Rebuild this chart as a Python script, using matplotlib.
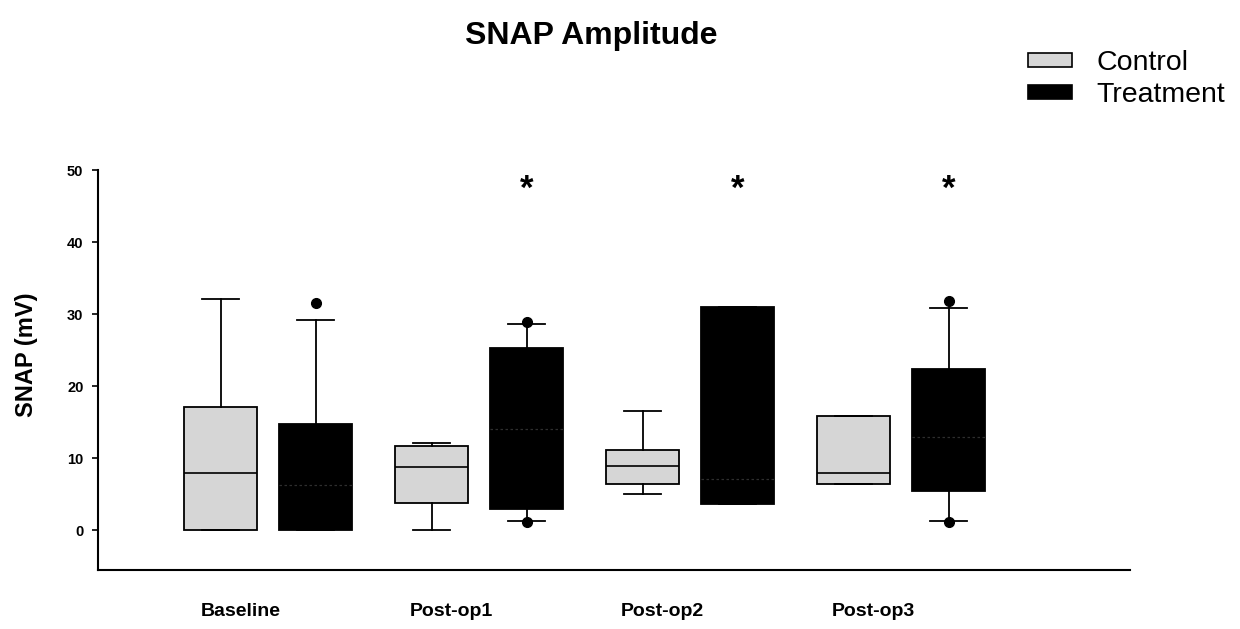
import matplotlib
matplotlib.use("Agg")
import matplotlib.pyplot as plt
from matplotlib.patches import Patch

plt.rcParams['font.family'] = ['Liberation Sans', 'DejaVu Sans']

# Time points
categories = ["Baseline", "Post-op1", "Post-op2", "Post-op3"]

# Control group box statistics (mV)
ctrl_whislo = [0.0, 0.1, 5.0, 6.4]
ctrl_q1 = [0.0, 3.75, 6.5, 6.4]
ctrl_med = [7.9, 8.75, 8.9, 7.9]
ctrl_q3 = [17.1, 11.7, 11.1, 15.8]
ctrl_whishi = [32.1, 12.1, 16.5, 15.8]
ctrl_fliers = [[], [], [], []]

# Treatment group box statistics (mV)
trt_whislo = [0.0, 1.25, 3.7, 1.25]
trt_q1 = [0.0, 3.0, 3.7, 5.4]
trt_med = [6.25, 14.0, 7.1, 13.0]
trt_q3 = [14.7, 25.3, 31.0, 22.4]
trt_whishi = [29.2, 28.7, 31.0, 30.8]
trt_fliers = [[31.5], [1.2, 28.9], [], [1.2, 31.8]]

# Time points where treatment differs significantly
significant = [False, True, True, True]
star_level = 47.3


def make_stats(lo, q1, med, q3, hi, fl):
    return [dict(whislo=a, q1=b, med=c, q3=d, whishi=e, fliers=f)
            for a, b, c, d, e, f in zip(lo, q1, med, q3, hi, fl)]


fig = plt.figure(figsize=(12.4, 6.29), dpi=100)
ax = fig.add_axes([98 / 1240, 1 - 570 / 629, (1130 - 98) / 1240, 400 / 629])

groups = range(len(categories))
offset = 0.225
width = 0.346

flier_style = dict(marker='o', markerfacecolor='black', markeredgecolor='black',
                   markersize=7, linestyle='none')

ax.bxp(make_stats(ctrl_whislo, ctrl_q1, ctrl_med, ctrl_q3, ctrl_whishi, ctrl_fliers),
       positions=[g - offset for g in groups], widths=width, capwidths=width * 0.5,
       patch_artist=True, manage_ticks=False,
       boxprops=dict(facecolor='#d6d6d6', edgecolor='black', linewidth=1.3),
       medianprops=dict(color='black', linewidth=1.2),
       whiskerprops=dict(color='black', linewidth=1.3),
       capprops=dict(color='black', linewidth=1.3),
       flierprops=flier_style)

ax.bxp(make_stats(trt_whislo, trt_q1, trt_med, trt_q3, trt_whishi, trt_fliers),
       positions=[g + offset for g in groups], widths=width, capwidths=width * 0.5,
       patch_artist=True, manage_ticks=False,
       boxprops=dict(facecolor='black', edgecolor='black', linewidth=1.3),
       medianprops=dict(color='#2e2e2e', linewidth=0.9, linestyle=(0, (2, 2))),
       whiskerprops=dict(color='black', linewidth=1.3),
       capprops=dict(color='black', linewidth=1.3),
       flierprops=flier_style)

for g, sig in zip(groups, significant):
    if sig:
        ax.text(g + offset, star_level, '*', ha='center', va='center',
                fontsize=25, fontweight='bold')

ax.set_xlim(-0.806, 4.085)
ax.set_ylim(-5.5, 50)
ax.set_yticks([0, 10, 20, 30, 40, 50])
ax.set_xticks([g - 0.13 for g in groups])
ax.set_xticklabels(categories)

ax.tick_params(axis='y', direction='out', length=4.5, width=1.2, pad=6,
               labelsize=10.5)
ax.tick_params(axis='x', length=0, pad=24, labelsize=14)
for lbl in ax.get_yticklabels() + ax.get_xticklabels():
    lbl.set_fontweight('bold')

for side in ('top', 'right'):
    ax.spines[side].set_visible(False)
for side in ('left', 'bottom'):
    ax.spines[side].set_linewidth(1.5)

ax.set_ylabel('SNAP (mV)', fontsize=17, fontweight='bold')
ax.yaxis.label.set_va('center')
ax.yaxis.set_label_coords((27 - 98) / 1032, (570 - 355) / 400)

ax.set_title('SNAP Amplitude', fontsize=23, fontweight='bold',
             x=(591 - 98) / 1032, y=(570 - 44) / 400, va='center')

handles = [Patch(facecolor='#d6d6d6', edgecolor='black', linewidth=1.2, label='Control'),
           Patch(facecolor='black', edgecolor='black', linewidth=1.2, label='Treatment')]
fig.legend(handles=handles, loc='upper left', bbox_to_anchor=(1028 / 1240, 1 - 50 / 629),
           frameon=False, fontsize=20.5, handlelength=1.55, handleheight=0.35,
           handletextpad=0.85, labelspacing=0.22, borderpad=0, borderaxespad=0)

fig.savefig('out.png', dpi=100)
